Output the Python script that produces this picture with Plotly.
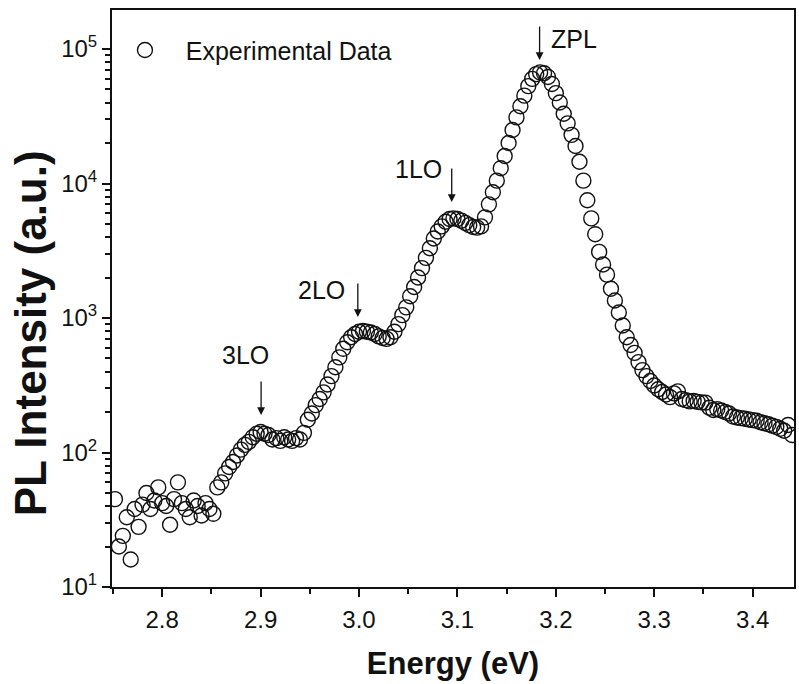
import plotly.graph_objects as go

# ---- data ----
energy_ev = [
    2.752, 2.756, 2.760, 2.764, 2.768, 2.772, 2.776, 2.780, 2.784, 2.788,
    2.792, 2.796, 2.800, 2.804, 2.808, 2.812, 2.816, 2.820, 2.824, 2.828,
    2.832, 2.836, 2.840, 2.844, 2.848, 2.852, 2.856, 2.860, 2.864, 2.868,
    2.872, 2.876, 2.880, 2.884, 2.888, 2.892, 2.896, 2.900, 2.904, 2.908,
    2.912, 2.916, 2.920, 2.924, 2.928, 2.932, 2.936, 2.940, 2.944, 2.948,
    2.952, 2.956, 2.960, 2.964, 2.968, 2.972, 2.976, 2.980, 2.984, 2.988,
    2.992, 2.996, 3.000, 3.004, 3.008, 3.012, 3.016, 3.020, 3.024, 3.028,
    3.032, 3.036, 3.040, 3.044, 3.048, 3.052, 3.056, 3.060, 3.064, 3.068,
    3.072, 3.076, 3.080, 3.084, 3.088, 3.092, 3.096, 3.100, 3.104, 3.108,
    3.112, 3.116, 3.120, 3.124, 3.128, 3.132, 3.136, 3.140, 3.144, 3.148,
    3.152, 3.156, 3.160, 3.164, 3.168, 3.172, 3.176, 3.180, 3.184, 3.188,
    3.192, 3.196, 3.200, 3.204, 3.208, 3.212, 3.216, 3.220, 3.224, 3.228,
    3.232, 3.236, 3.240, 3.244, 3.248, 3.252, 3.256, 3.260, 3.264, 3.268,
    3.272, 3.276, 3.280, 3.284, 3.288, 3.292, 3.296, 3.300, 3.304, 3.308,
    3.312, 3.316, 3.320, 3.324, 3.328, 3.332, 3.336, 3.340, 3.344, 3.348,
    3.352, 3.356, 3.360, 3.364, 3.368, 3.372, 3.376, 3.380, 3.384, 3.388,
    3.392, 3.396, 3.400, 3.404, 3.408, 3.412, 3.416, 3.420, 3.424, 3.428,
    3.432, 3.436, 3.440,
]

pl_intensity = [
    45, 20, 24, 33, 16, 38, 28, 41, 50, 38,
    44, 55, 42, 40, 29, 45, 60, 42, 38, 33,
    44, 40, 34, 42, 38, 35, 55, 60, 70, 78,
    85, 95, 105, 114, 120, 130, 138, 142, 138, 135,
    125, 128, 122, 130, 125, 122, 128, 125, 140, 175,
    195, 225, 250, 280, 320, 370, 430, 510, 590, 660,
    720, 760, 790, 800, 790, 780, 760, 730, 710, 700,
    720, 790, 900, 1050, 1200, 1450, 1700, 2000, 2350, 2800,
    3300, 3900, 4400, 4800, 5200, 5450, 5500, 5450, 5300, 5100,
    4900, 4750, 4700, 4800, 5600, 7000, 8600, 10500, 13000, 16000,
    20000, 25000, 31000, 37500, 45000, 53000, 60000, 65000, 67000, 66000,
    62000, 55000, 47000, 40000, 33000, 28000, 23000, 19000, 14500, 10500,
    7500, 5500, 4200, 3100, 2500, 2100, 1650, 1350, 1100, 880,
    720, 630, 550, 470, 410, 370, 340, 315, 295, 282,
    270, 258, 275, 285, 250, 245, 240, 242, 238, 236,
    235, 215, 207, 210, 205, 200, 195, 185, 182, 180,
    178, 176, 174, 172, 168, 165, 162, 158, 155, 150,
    145, 160, 135,
]

x_tick_vals = [2.8, 2.9, 3.0, 3.1, 3.2, 3.3, 3.4]
x_tick_text = ["2.8", "2.9", "3.0", "3.1", "3.2", "3.3", "3.4"]
y_tick_vals = [10, 100, 1000, 10000, 100000]
y_tick_text = ["10<sup>1</sup>", "10<sup>2</sup>", "10<sup>3</sup>",
               "10<sup>4</sup>", "10<sup>5</sup>"]
y_minor_vals = [m * 10 ** d for d in range(1, 5) for m in range(2, 10)] + [200000]

# peak labels: (label, energy of arrow tip, log10 intensity of arrow tip, text xshift, text yshift)
peak_labels = ["ZPL", "1LO", "2LO", "3LO"]
peak_energy = [3.1835, 3.0942, 2.9988, 2.9005]
peak_logI = [4.918, 3.862, 3.007, 2.279]
label_xshift = [34, -33, -36, -16]
label_yshift = [21, 33, 27, 60]

FONT = "Liberation Sans, Arial, Helvetica, sans-serif"
INK = "#111111"

fig = go.Figure()
fig.add_trace(go.Scatter(
    x=energy_ev, y=pl_intensity, mode="markers",
    name="\u00a0\u00a0\u00a0Experimental Data",
    marker=dict(symbol="circle-open", size=15, color=INK, line=dict(width=1.4, color=INK)),
))

for lab, ex, ly, xs, ys in zip(peak_labels, peak_energy, peak_logI, label_xshift, label_yshift):
    fig.add_annotation(x=ex, y=ly, xref="x", yref="y", text="", showarrow=True,
                       ax=0, ay=-35, arrowhead=2, arrowsize=1.2, arrowwidth=1.3,
                       arrowcolor=INK, standoff=0)
    fig.add_annotation(x=ex, y=ly, xref="x", yref="y", text=lab, showarrow=False,
                       xshift=xs, yshift=ys, font=dict(family=FONT, size=25, color=INK))

# y-axis title (placed as rotated text, lower than the plot centre as in the original)
fig.add_annotation(x=-0.12, y=0.44, xref="paper", yref="paper",
                   text="<b>PL Intensity (a.u.)</b>", showarrow=False, textangle=-90,
                   xanchor="center", yanchor="middle",
                   font=dict(family=FONT, size=44, color=INK))

fig.update_layout(
    width=799, height=684,
    margin=dict(l=112, r=5, t=10, b=97, autoexpand=False),
    paper_bgcolor="white", plot_bgcolor="white",
    font=dict(family=FONT, color=INK),
    showlegend=True,
    legend=dict(x=0.019, y=0.97, xanchor="left", yanchor="top",
                font=dict(family=FONT, size=25, color=INK),
                bgcolor="rgba(0,0,0,0)", borderwidth=0),
)
fig.update_xaxes(
    range=[2.749, 3.442], showgrid=False, zeroline=False, automargin=False,
    showline=True, linecolor=INK, linewidth=2, mirror=True,
    ticks="outside", ticklen=8, tickwidth=1.5, tickcolor=INK,
    tickvals=x_tick_vals, ticktext=x_tick_text, ticklabelstandoff=2,
    tickfont=dict(family=FONT, size=24, color=INK),
    minor=dict(dtick=0.05, tick0=2.75, ticks="outside", ticklen=5, tickwidth=1.5,
               tickcolor=INK, showgrid=False),
    title=dict(text="<b>Energy (eV)</b>", font=dict(family=FONT, size=31, color=INK),
               standoff=21),
)
fig.update_yaxes(
    type="log", range=[1, 5.29], showgrid=False, zeroline=False, automargin=False,
    showline=True, linecolor=INK, linewidth=2, mirror=True,
    ticks="outside", ticklen=8, tickwidth=1.5, tickcolor=INK,
    tickvals=y_tick_vals, ticktext=y_tick_text,
    tickfont=dict(family=FONT, size=24, color=INK),
    minor=dict(tickvals=y_minor_vals, ticks="outside", ticklen=5, tickwidth=1.5,
               tickcolor=INK, showgrid=False),
)

fig.write_html("out.html", config={"displayModeBar": False},
               post_script="document.body.style.margin='0';")
